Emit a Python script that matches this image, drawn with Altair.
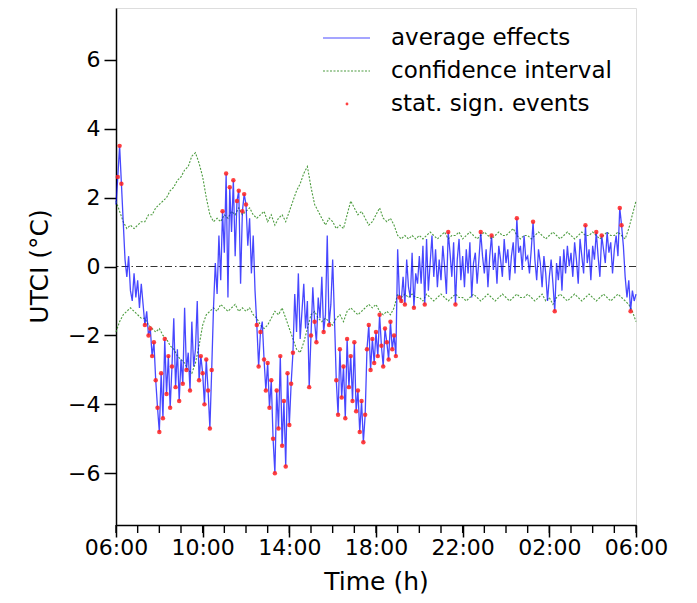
import numpy as np
import pandas as pd
import altair as alt

# Average effect, 5-minute steps from 06:00 to 06:00 next day (289 values)
avg_effect = [
    # 06
    1.8, 2.6, 3.5, 2.4, 1.3, 0.2, -0.3, 0.3, -0.7, -1.0, -0.2, -0.9,
    # 07
    -0.4, -1.2, -0.5, -1.1, -1.7, -1.3, -2.0, -1.8, -2.6, -2.2, -3.3, -4.1,
    # 08
    -4.8, -3.1, -4.4, -2.1, -3.7, -2.6, -4.1, -2.9, -1.5, -3.5, -2.4, -3.9,
    # 09
    -2.7, -3.4, -1.2, -3.0, -2.5, -3.6, -1.6, -2.9, -2.4, -1.0, -3.3, -2.6,
    # 10
    -3.1, -4.0, -2.7, -3.6, -4.7, -3.0, -1.2, 0.1, -0.8, 0.9, -0.4, 1.6,
    # 11
    0.4, 2.7, -0.9, 2.3, 1.0, 2.5, 0.3, 1.9, 2.2, -0.5, 1.6, 2.1,
    # 12
    1.8, 0.6, 1.4, -0.2, 0.9, -0.7, -1.7, -2.9, -1.9, -1.6, -2.7, -3.6,
    # 13
    -2.8, -4.1, -3.3, -5.0, -6.0, -3.6, -4.7, -2.6, -5.2, -3.9, -5.8, -3.1,
    # 14
    -4.6, -3.4, -2.5, -0.8, -1.9, -0.2, -2.1, -1.3, -0.5, -1.8, -1.0, -3.5,
    # 15
    -2.0, -0.6, -1.6, -2.2, -0.9, -1.5, -0.3, -1.9, -1.4, 0.9, -1.7, -1.1,
    # 16
    0.2, -1.5, -3.3, -4.3, -2.4, -3.8, -2.9, -4.4, -2.1, -3.5, -2.6, -3.9,
    # 17
    -2.2, -4.2, -3.6, -4.8, -3.9, -5.1, -4.3, -2.4, -1.7, -3.0, -2.1, -2.8,
    # 18
    -1.9, -2.6, -1.4, -2.3, -2.9, -1.8, -2.2, -2.7, -1.6, -2.4, -2.0, -2.6,
    # 19
    0.5, -0.9, -1.0, -0.3, -1.1, 0.2, -0.6, -0.9, 0.4, -1.2, -0.2, -0.5,
    # 20
    0.3, -0.5, 0.6, -1.1, 0.8, -0.7, 0.1, 0.9, -0.3, 0.5, -0.6, 0.2,
    # 21
    -0.4, 0.6, 0.0, -0.8, 1.0, 0.4, -0.3, 0.7, -1.1, 0.2, 0.8, -0.4,
    # 22
    0.3, -0.6, 0.5, -0.2, 0.7, -0.9, 0.1, 0.4, -0.5, 0.2, 1.0, 0.3,
    # 23
    -0.2, 0.5, -0.6, 0.3, 0.9, -0.1, 0.4, -0.5, 0.6, 0.2, -0.3, 0.8,
    # 00
    0.1, 0.5, -0.4, 0.3, 0.7, -0.2, 1.4, 0.4, 0.6, -0.1, 0.9, 0.2,
    # 01
    0.3, -0.2, 0.5, 1.3, 0.2, -0.4, 0.5, 0.1, -0.6, 0.3, -0.2, -1.0,
    # 02
    -0.3, 0.2, -0.5, -1.3, 0.1, -0.4, 0.3, -0.7, 0.5, -0.2, 0.6, 0.0,
    # 03
    0.4, -0.3, 0.7, 0.2, -0.5, 0.8, 0.3, -0.2, 1.2, 0.1, 0.5, -0.4,
    # 04
    0.6, 0.2, 1.0, 0.3, -0.3, 0.9, 0.5, 0.1, 1.0, 0.4, 0.7, -0.2,
    # 05
    0.5, 0.9, 0.3, 1.7, 1.2, 0.6, -0.3, -0.9, -0.4, -1.3, -0.7, -1.0,
    # 06 (end)
    -0.8,
]

# Confidence interval bounds, 10-minute steps (145 values each)
ci_upper = [
    1.9, 1.6, 1.3, 1.1, 1.2, 1.1,
    1.2, 1.3, 1.3, 1.5, 1.5, 1.7,
    1.8, 1.9, 2.0, 2.2, 2.3, 2.5,
    2.6, 2.8, 2.9, 3.2, 3.3, 3.0,
    2.6, 2.0, 1.5, 1.3, 1.4, 1.3,
    1.5, 1.4, 1.6, 1.5, 1.7, 1.5,
    1.6, 1.7, 1.5, 1.4, 1.5, 1.6,
    1.3, 1.5, 1.2, 1.4, 1.5, 1.3,
    1.6, 1.9, 2.2, 2.4, 2.7, 2.9,
    2.3, 1.8, 1.6, 1.4, 1.2, 1.4,
    1.3, 1.1, 1.2, 1.1, 1.5, 1.9,
    1.7, 1.5, 1.6, 1.4, 1.2, 1.3,
    1.5, 1.7, 1.4, 1.3, 1.4, 1.2,
    0.9, 0.8, 0.9, 0.8, 0.9, 0.8,
    0.9, 0.8, 0.9, 1.0, 0.9, 0.8,
    0.9, 1.0, 0.8, 0.9, 0.9, 1.0,
    0.8, 0.9, 1.0, 0.9, 0.8, 0.9,
    1.0, 0.9, 0.8, 0.9, 1.0, 0.9,
    0.9, 1.0, 1.1, 0.9, 0.8, 0.9,
    0.9, 0.8, 0.9, 1.0, 0.9, 0.8,
    0.9, 1.0, 0.9, 0.8, 0.9, 1.0,
    0.9, 0.8, 0.9, 1.0, 0.9, 0.9,
    1.0, 0.9, 0.8, 0.9, 1.0, 0.9,
    0.9, 1.0, 0.9, 0.8, 1.1, 1.5,
    1.9,
]
ci_lower = [
    -1.9, -1.6, -1.4, -1.3, -1.2, -1.3,
    -1.4, -1.5, -1.5, -1.7, -1.8, -1.9,
    -1.8, -2.0, -2.1, -2.3, -2.4, -2.6,
    -2.7, -2.8, -3.0, -3.1, -2.8, -2.3,
    -1.7, -1.4, -1.3, -1.2, -1.3, -1.1,
    -1.2, -1.3, -1.2, -1.1, -1.3, -1.2,
    -1.3, -1.2, -1.4, -1.5, -1.7, -1.8,
    -1.7, -1.5, -1.3, -1.4, -1.2, -1.5,
    -1.8, -2.1, -2.4, -2.5, -2.2, -1.8,
    -1.4, -1.3, -1.5, -1.6, -1.5, -1.6,
    -1.7, -1.5, -1.4, -1.6, -1.3, -1.2,
    -1.3, -1.4, -1.3, -1.2, -1.1, -1.2,
    -1.1, -1.3, -1.4, -1.3, -1.4, -1.2,
    -0.8, -0.9, -0.8, -0.9, -0.8, -0.9,
    -0.9, -1.0, -0.8, -0.9, -1.0, -0.9,
    -0.8, -0.9, -1.0, -0.9, -0.8, -0.9,
    -0.9, -1.0, -0.9, -0.8, -0.9, -1.0,
    -0.9, -0.8, -0.9, -1.0, -0.9, -0.8,
    -0.9, -1.0, -0.9, -0.8, -0.9, -0.9,
    -0.8, -0.9, -1.0, -0.9, -0.8, -1.0,
    -0.9, -1.1, -0.9, -0.8, -0.9, -1.0,
    -0.9, -0.8, -0.9, -1.0, -0.9, -0.8,
    -0.9, -1.0, -0.9, -0.8, -0.9, -1.0,
    -0.9, -0.8, -0.9, -1.0, -1.1, -1.3,
    -1.6,
]

major_x_ticks = [6, 10, 14, 18, 22, 26, 30]
minor_x_ticks = list(range(6, 31))
y_tick_values = [-6, -4, -2, 0, 2, 4, 6]
legend_labels = ["average effects", "confidence interval", "stat. sign. events"]

FONT = "DejaVu Sans"
H = 517

t_avg = 6 + np.arange(len(avg_effect)) / 12.0
t_ci = 6 + np.arange(len(ci_upper)) / 6.0

df_avg = pd.DataFrame({"t": t_avg, "v": avg_effect})
df_ci = pd.DataFrame({
    "t": list(t_ci) * 2,
    "v": ci_upper + ci_lower,
    "band": ["upper"] * len(ci_upper) + ["lower"] * len(ci_lower),
})
sig_rows = [
    (t, v) for i, (t, v) in enumerate(zip(t_avg, avg_effect))
    if v > ci_upper[i // 2] or v < ci_lower[i // 2]
]
df_sig = pd.DataFrame(sig_rows, columns=["t", "v"])
df_zero = pd.DataFrame({"v": [0.0]})
df_minor = pd.DataFrame({"t": minor_x_ticks})
df_one = pd.DataFrame({"a": [0]})

xscale = alt.Scale(domain=[6, 30], nice=False, zero=False)
yscale = alt.Scale(domain=[-7.5, 7.5], nice=False, zero=False)

label_x = "((datum.value % 24 < 10 ? '0' : '') + (datum.value % 24) + ':00')"
xaxis = alt.Axis(
    values=major_x_ticks, labelExpr=label_x, grid=False,
    tickSize=12, tickColor="black", tickWidth=1.5, domainColor="black", domainWidth=1.5,
    labelFont=FONT, labelFontSize=22, labelColor="black", labelPadding=0,
    labelOverlap=False, labelFlush=False,
    title="Time (h)", titleFont=FONT, titleFontSize=25, titleFontWeight="normal",
    titleColor="black", titleX=260, titleY=64, titleBaseline="alphabetic",
    titleAlign="center",
)
yaxis = alt.Axis(
    values=y_tick_values, grid=False,
    labelExpr="datum.value < 0 ? '\u2212' + abs(datum.value) : '' + datum.value",
    tickSize=12, tickColor="black", tickWidth=1.5, domainColor="black", domainWidth=1.5,
    labelFont=FONT, labelFontSize=22, labelColor="black", labelPadding=4,
    labelOverlap=False, labelFlush=False,
    title="UTCI (\u00b0C)", titleFont=FONT, titleFontSize=25, titleFontWeight="normal",
    titleColor="black", titleX=-77, titleY=258, titleAngle=270,
    titleBaseline="middle", titleAlign="center",
)

X = alt.X("t:Q", scale=xscale, axis=xaxis)
Y = alt.Y("v:Q", scale=yscale, axis=yaxis)

zero_line = alt.Chart(df_zero).mark_rule(
    color="black", strokeWidth=1, strokeDash=[7, 3, 1.5, 3], opacity=0.8
).encode(y=Y)

# hourly minor ticks below the x axis
minor_ticks = alt.Chart(df_minor).mark_rule(
    color="black", strokeWidth=1.4, clip=False
).encode(x=X, y=alt.value(H), y2=alt.value(H + 8))

ci_lines = alt.Chart(df_ci).mark_line(
    color="#2e8b1e", strokeWidth=1.1, strokeDash=[2, 1.5], opacity=0.85
).encode(x=X, y=Y, detail="band:N")

avg_line = alt.Chart(df_avg).mark_line(
    color="#0000ff", strokeWidth=1.3, opacity=0.72
).encode(x=X, y=Y)

sig_pts = alt.Chart(df_sig).mark_circle(
    color="#ff2020", size=20, opacity=0.85
).encode(x=X, y=Y)

# legend (inside top-right of the plot)
leg_blue = alt.Chart(df_one).mark_rule(color="#0000ff", strokeWidth=1.2, opacity=0.7).encode(
    x=alt.value(207), x2=alt.value(254), y=alt.value(30))
leg_green = alt.Chart(df_one).mark_rule(color="#2e8b1e", strokeWidth=1.1, strokeDash=[2, 1.5], opacity=0.85).encode(
    x=alt.value(207), x2=alt.value(254), y=alt.value(63))
leg_red = alt.Chart(df_one).mark_circle(color="#ff2020", size=8, opacity=0.85).encode(
    x=alt.value(231), y=alt.value(96))
leg_texts = [
    alt.Chart(df_one).mark_text(
        align="left", baseline="middle", font=FONT, fontSize=23, color="black"
    ).encode(x=alt.value(275), y=alt.value(yy), text=alt.value(lbl))
    for lbl, yy in zip(legend_labels, [30, 63, 96])
]

chart = alt.layer(
    zero_line, minor_ticks, ci_lines, avg_line, sig_pts,
    leg_blue, leg_green, leg_red, *leg_texts
).properties(
    width=520, height=H,
    autosize=alt.AutoSizeParams(type="none"),
    padding={"left": 108, "top": 0, "right": 53, "bottom": 70},
).configure_view(
    stroke="black", strokeWidth=1.5
).configure(background="white")

chart.save("out.html", embed_options={"renderer": "svg", "actions": False})
